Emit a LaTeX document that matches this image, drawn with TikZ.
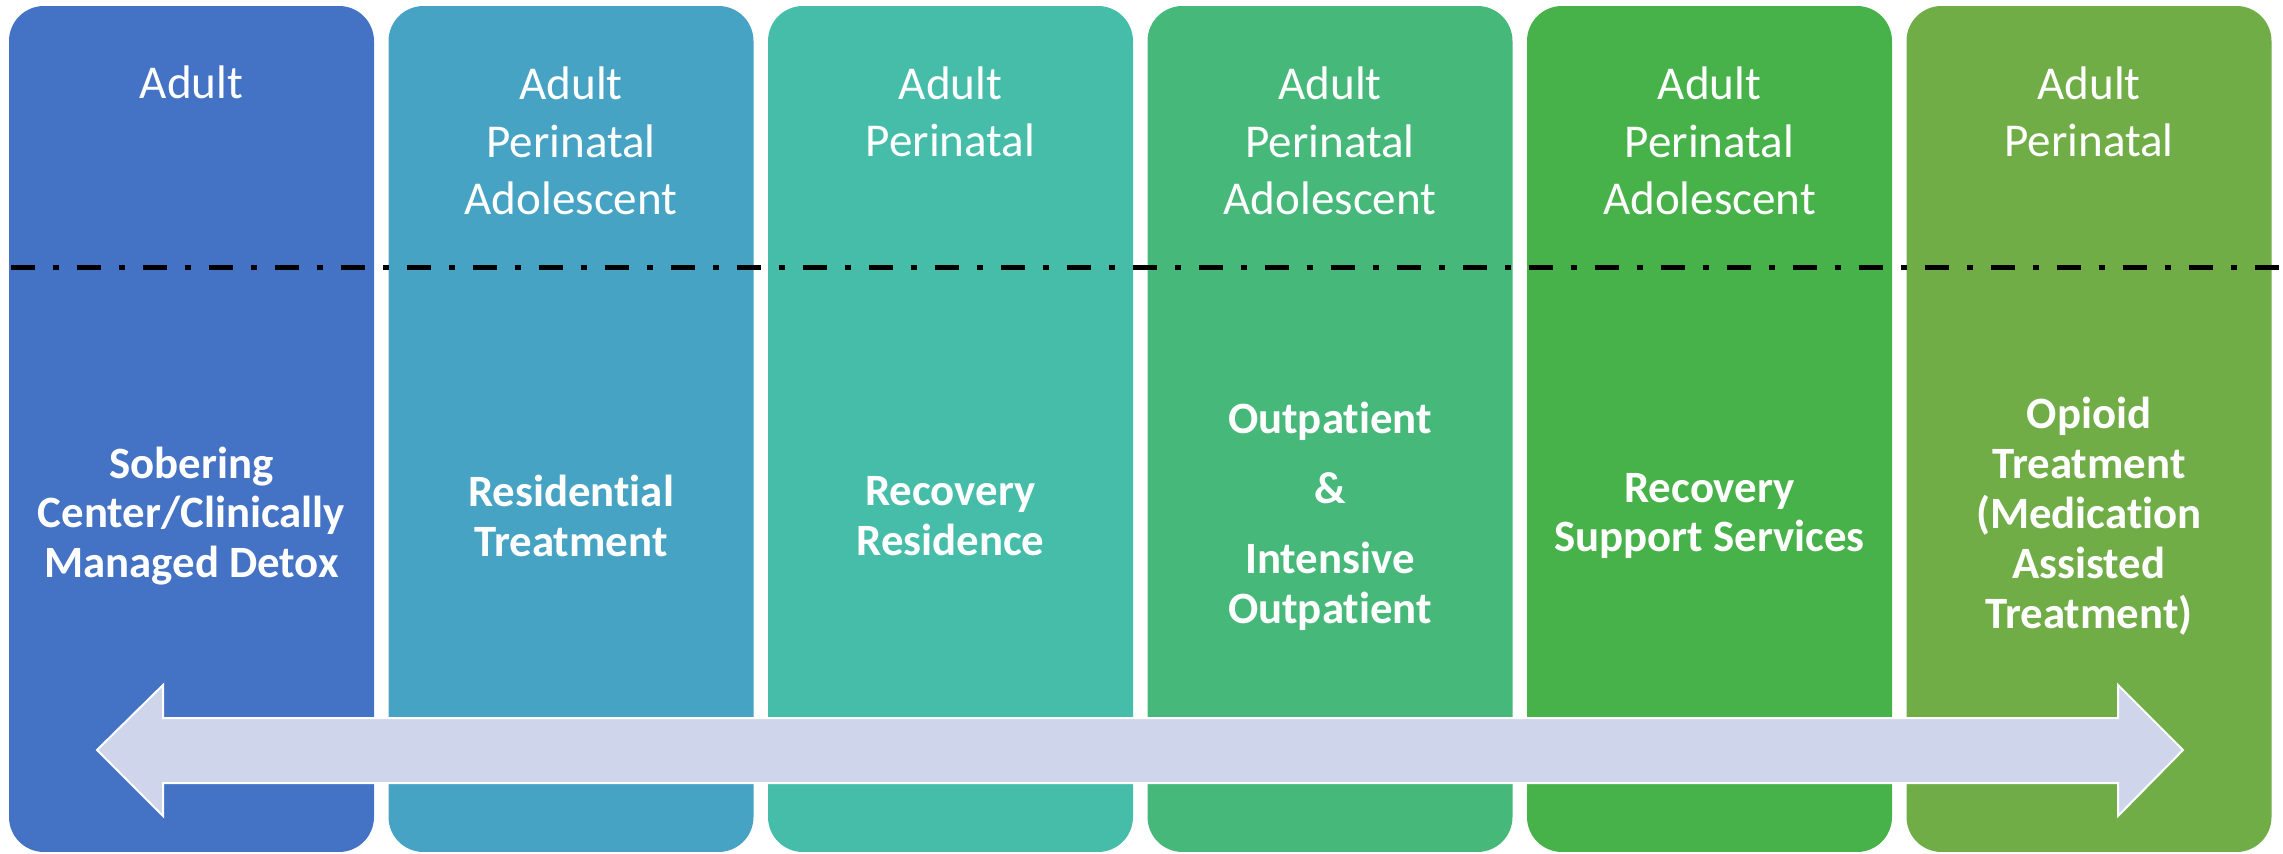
\documentclass[tikz,border=0pt]{standalone}
\usepackage{fontspec}
\setmainfont[Ligatures={NoCommon,NoContextual,NoRare},Contextuals={NoAlternate}]{Carlito}
\definecolor{cA}{HTML}{4472C4}
\definecolor{cB}{HTML}{46A3C3}
\definecolor{cC}{HTML}{46BDA9}
\definecolor{cD}{HTML}{46B879}
\definecolor{cE}{HTML}{47B249}
\definecolor{cF}{HTML}{70AD47}
\definecolor{arrowfill}{HTML}{CFD5EA}
\tikzset{
  colbox/.style={rectangle, rounded corners=3.5mm, minimum width=36.5mm, minimum height=84.6mm, inner sep=0pt, draw=none},
  toplabel/.style={anchor=base, align=center, inner sep=0pt, text=white, font=\fontsize{13.4}{16.5}\selectfont},
  mainlabel/.style={anchor=center, align=center, inner sep=0pt, text=white, font=\fontsize{12.75}{14.2}\selectfont\bfseries},
  divider/.style={line width=0.5mm, dash pattern=on 2.4mm off 1.8mm on 0.6mm off 1.8mm},
  bigarrow/.style={fill=arrowfill, draw=white, line width=0.2mm}
}
\begin{document}
\begin{tikzpicture}[x=0.1mm, y=-0.1mm]
\useasboundingbox (0,0) rectangle (2283,854);
% columns
\node[colbox, fill=cA] (b1) at (191.5,429) {};
\node[colbox, fill=cB] (b2) at (571,429) {};
\node[colbox, fill=cC] (b3) at (950.5,429) {};
\node[colbox, fill=cD] (b4) at (1330,429) {};
\node[colbox, fill=cE] (b5) at (1709.5,429) {};
\node[colbox, fill=cF] (b6) at (2089,429) {};
% top labels (base anchor = baseline of last line)
\node[toplabel] (t1) at (191.5,99) {Adult};
\node[toplabel] (t2) at (571,215) {Adult\\Perinatal\\Adolescent};
\node[toplabel] (t3) at (950.5,157) {Adult\\Perinatal};
\node[toplabel] (t4) at (1330,215) {Adult\\Perinatal\\Adolescent};
\node[toplabel] (t5) at (1709.5,215) {Adult\\Perinatal\\Adolescent};
\node[toplabel] (t6) at (2089,157) {Adult\\Perinatal};
% divider
\coordinate (dl) at (11,268);
\coordinate (dr) at (2283,268);
\draw[divider] (dl) -- (dr);
% main labels
\node[mainlabel] (m1) at (191.5,516) {Sobering\\Center/Clinically\\Managed Detox};
\node[mainlabel] (m2) at (571,516) {Residential\\Treatment};
\node[mainlabel] (m3) at (950.5,516) {Recovery\\Residence};
\node[mainlabel] (m4) at (1330,516) {Outpatient\\[5.7pt]\&\\[5.7pt]Intensive\\Outpatient};
\node[mainlabel] (m5) at (1709.5,516) {Recovery\\Support Services};
\node[mainlabel] (m6) at (2089,516) {Opioid\\Treatment\\(Medication\\Assisted\\Treatment)};
% double arrow
\draw[bigarrow] (97,750) -- (163,685) -- (163,718) -- (2118,718) -- (2118,685)
  -- (2183,750) -- (2118,816) -- (2118,783) -- (163,783) -- (163,816) -- cycle;
\end{tikzpicture}
\end{document}
